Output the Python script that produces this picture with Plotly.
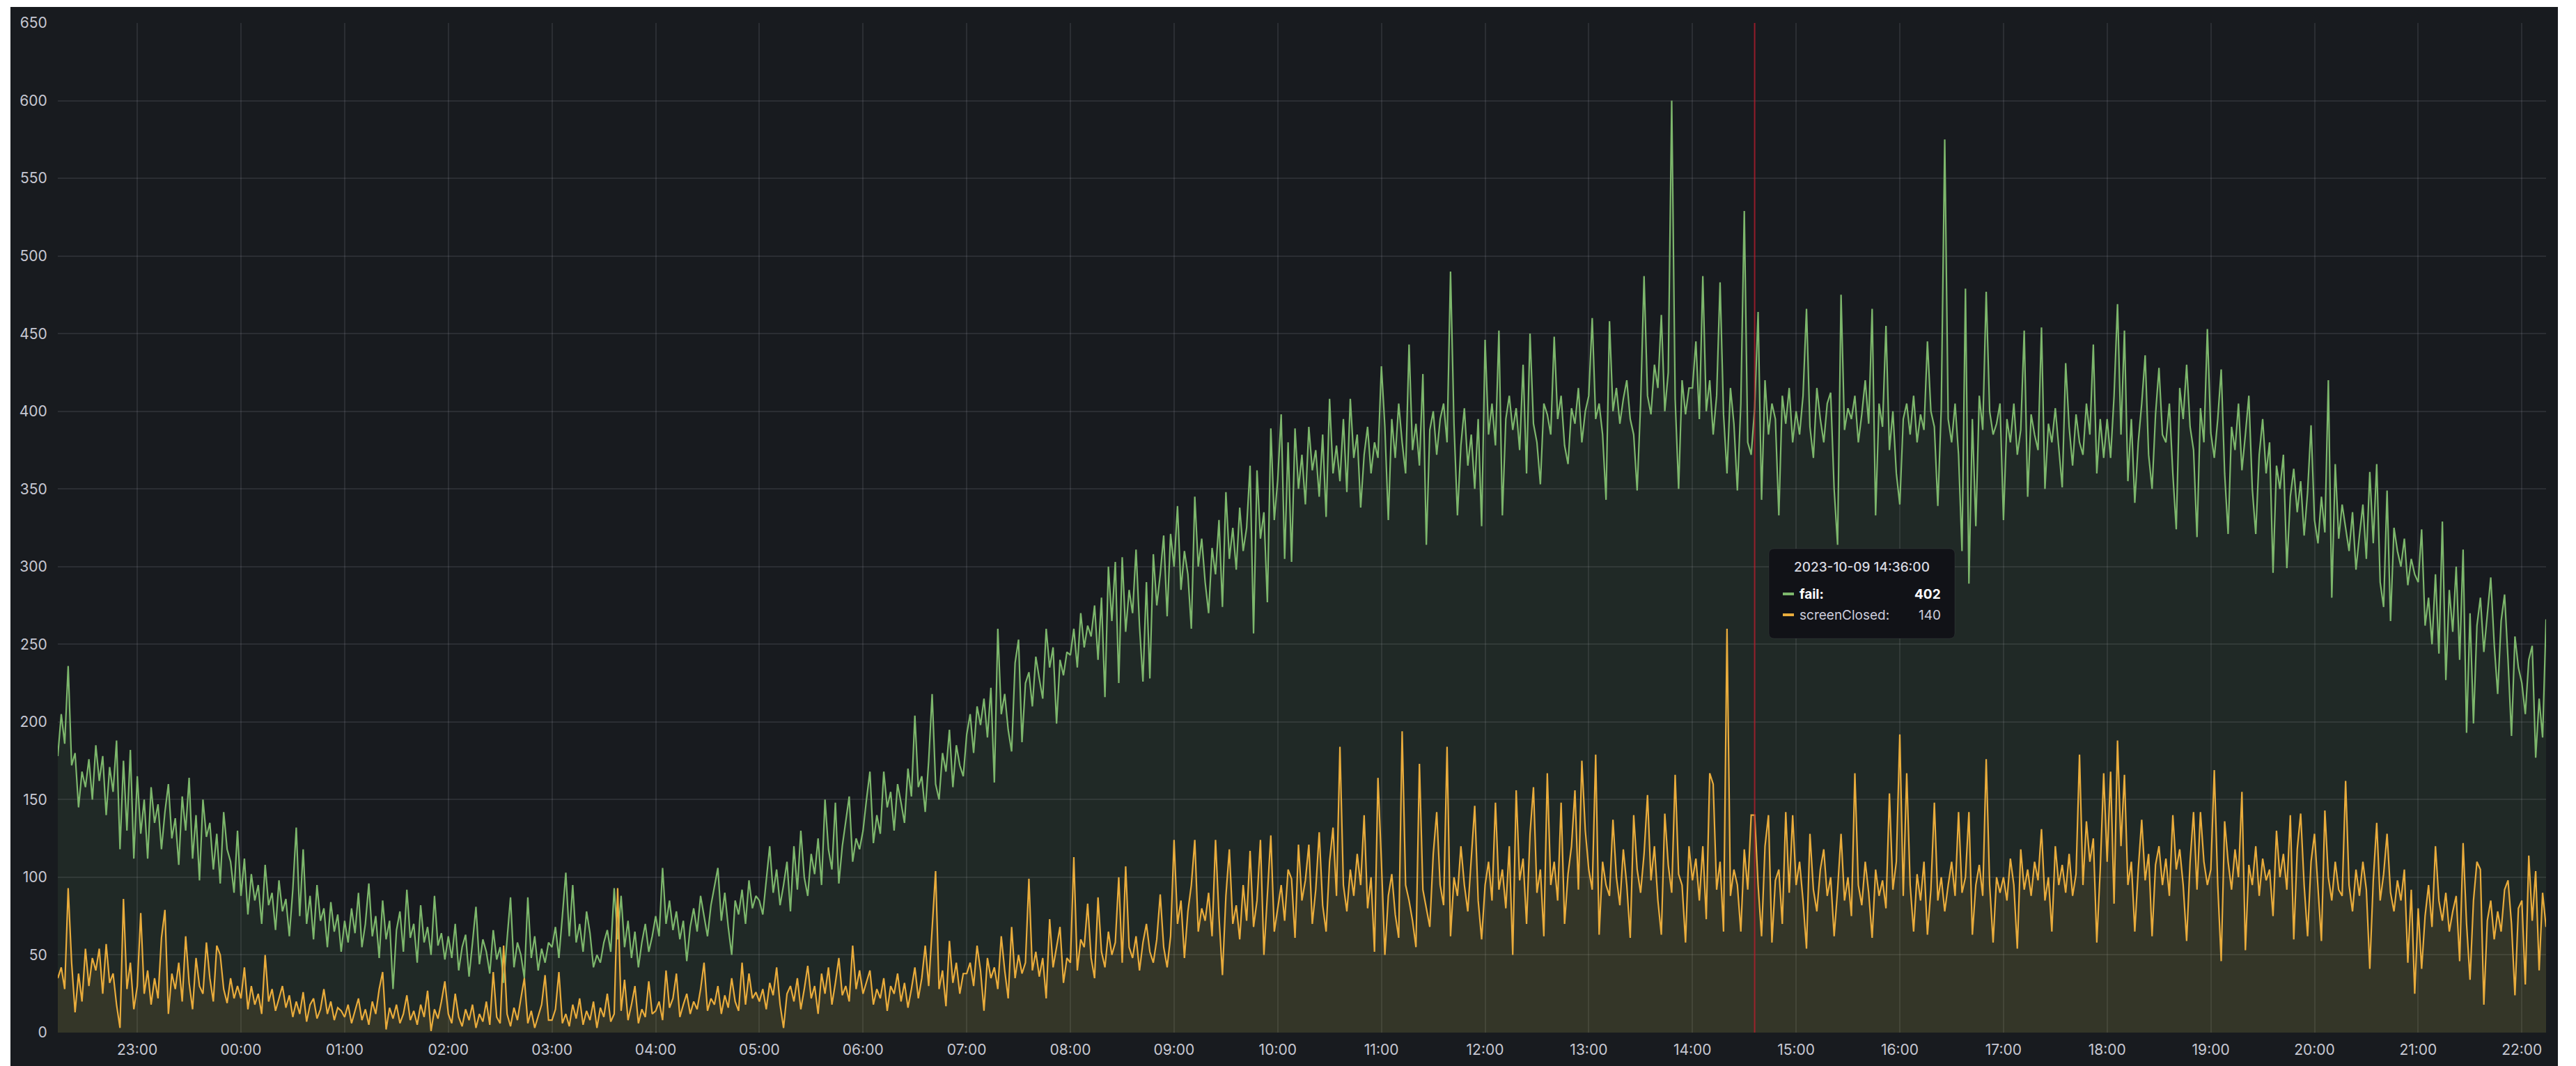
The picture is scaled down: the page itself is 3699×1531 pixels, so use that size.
import pandas as pd
import plotly.graph_objects as go

# ---------------- data (2-minute samples, 2023-10-08 22:14 -> 2023-10-09 22:14) ----------------
start_time = "2023-10-08 22:14"
end_time = "2023-10-09 22:14"
hover_time = "2023-10-09 14:36:00"

fail = (
    [178, 205, 186, 236, 172, 180, 145, 168, 158, 176, 150, 185, 162, 178, 140, 171, 155, 188, 118, 175, 130, 182, 112]  # 22:14-22:58
    + [165, 128, 150, 112, 158, 135, 147, 118, 142, 160, 125, 138, 108, 152, 130, 164, 112, 140, 98, 150, 126, 135, 105, 128, 96, 142, 118, 110, 90, 130]  # 23h
    + [88, 112, 76, 102, 85, 95, 70, 108, 82, 90, 66, 98, 78, 86, 62, 92, 132, 75, 118, 70, 88, 60, 95, 72, 80, 55, 84, 65, 76, 52]  # 00h
    + [72, 58, 80, 64, 90, 55, 70, 96, 62, 75, 48, 85, 60, 72, 28, 66, 78, 52, 92, 61, 70, 45, 82, 58, 68, 50, 88, 56, 64, 47]  # 01h
    + [62, 48, 70, 40, 55, 63, 36, 58, 81, 44, 60, 52, 38, 66, 47, 55, 32, 60, 87, 42, 58, 50, 35, 87, 48, 62, 40, 54, 45, 58]  # 02h
    + [55, 68, 48, 75, 103, 62, 95, 58, 70, 52, 78, 64, 42, 50, 45, 58, 66, 52, 93, 60, 88, 55, 72, 48, 65, 42, 58, 70, 52, 62]  # 03h
    + [75, 62, 106, 70, 85, 66, 78, 60, 72, 46, 68, 80, 65, 88, 74, 62, 82, 95, 106, 72, 90, 68, 50, 85, 76, 92, 70, 98, 80, 88]  # 04h
    + [85, 76, 98, 120, 90, 105, 82, 95, 110, 78, 120, 92, 130, 100, 88, 115, 102, 125, 95, 150, 118, 105, 148, 96, 120, 135, 152, 110, 125, 118]  # 05h
    + [130, 150, 168, 122, 140, 128, 168, 145, 155, 130, 160, 148, 135, 170, 152, 204, 158, 165, 142, 175, 218, 160, 150, 180, 168, 195, 158, 185, 172, 165]  # 06h
    + [192, 205, 180, 210, 198, 215, 190, 222, 161, 260, 205, 218, 195, 181, 238, 253, 187, 225, 232, 210, 242, 228, 215, 260, 235, 248, 199, 240, 230, 245]  # 07h
    + [243, 260, 235, 270, 248, 262, 255, 275, 240, 280, 216, 300, 265, 303, 225, 306, 258, 285, 270, 311, 262, 226, 290, 228, 308, 275, 295, 320, 268, 321]  # 08h
    + [300, 339, 285, 310, 295, 260, 345, 300, 318, 290, 270, 312, 295, 330, 274, 348, 305, 325, 298, 338, 310, 325, 365, 257, 362, 318, 335, 277, 389, 330]  # 09h
    + [356, 398, 305, 380, 303, 389, 350, 372, 340, 390, 362, 375, 345, 385, 332, 408, 360, 378, 355, 395, 348, 408, 370, 385, 338, 372, 390, 360, 380, 370]  # 10h
    + [429, 390, 330, 395, 370, 405, 380, 360, 443, 375, 392, 365, 424, 314, 388, 400, 372, 395, 405, 380, 490, 392, 333, 378, 402, 365, 385, 350, 395, 326]  # 11h
    + [446, 385, 405, 378, 452, 333, 395, 410, 388, 402, 375, 430, 360, 450, 392, 380, 353, 405, 398, 385, 448, 395, 410, 378, 366, 402, 392, 415, 380, 400]  # 12h
    + [410, 460, 395, 405, 385, 343, 458, 400, 415, 392, 408, 420, 395, 385, 349, 405, 487, 410, 398, 430, 415, 462, 400, 425, 600, 408, 350, 420, 398, 415]  # 13h
    + [415, 445, 395, 487, 400, 420, 385, 410, 483, 398, 360, 415, 392, 349, 405, 529, 380, 372, 402, 464, 343, 420, 385, 405, 395, 333, 410, 392, 415, 380]  # 14h
    + [400, 385, 410, 466, 390, 370, 415, 395, 380, 405, 412, 350, 314, 475, 388, 402, 395, 410, 380, 398, 420, 392, 466, 333, 405, 390, 455, 375, 400, 360]  # 15h
    + [340, 395, 405, 385, 410, 380, 398, 388, 445, 400, 390, 339, 402, 575, 395, 380, 405, 372, 310, 479, 289, 395, 326, 410, 388, 477, 400, 385, 392, 405]  # 16h
    + [330, 395, 380, 405, 372, 388, 452, 345, 398, 385, 375, 454, 350, 392, 380, 402, 375, 351, 431, 390, 365, 398, 380, 372, 405, 385, 443, 360, 395, 370]  # 17h
    + [395, 370, 410, 469, 385, 452, 355, 395, 341, 380, 405, 436, 372, 350, 398, 428, 385, 380, 405, 360, 324, 415, 395, 430, 390, 375, 319, 402, 380, 453]  # 18h
    + [386, 370, 395, 427, 360, 321, 390, 375, 405, 362, 385, 410, 350, 321, 372, 395, 360, 380, 296, 365, 350, 372, 299, 345, 363, 335, 355, 320, 348, 391]  # 19h
    + [330, 315, 345, 322, 420, 280, 366, 318, 340, 325, 310, 335, 298, 320, 340, 305, 361, 315, 366, 290, 274, 349, 265, 325, 310, 300, 318, 288, 305, 295]  # 20h
    + [290, 324, 262, 280, 250, 295, 244, 329, 227, 285, 258, 300, 240, 311, 193, 270, 199, 262, 280, 245, 270, 293, 250, 218, 265, 282, 240, 191, 255, 235]  # 21h
    + [225, 205, 240, 249, 177, 215, 190, 266]  # 22:00-22:14
)

screen_closed = (
    [35, 42, 28, 93, 45, 13, 38, 20, 54, 30, 48, 40, 54, 25, 57, 32, 38, 18, 3, 86, 28, 45, 15]  # 22:14-22:58
    + [30, 77, 25, 40, 18, 35, 22, 61, 79, 12, 38, 28, 45, 20, 62, 32, 15, 48, 30, 25, 58, 35, 20, 56, 50, 28, 19, 35, 22, 30]  # 23h
    + [22, 42, 15, 30, 18, 25, 12, 50, 20, 28, 14, 22, 30, 16, 24, 10, 20, 12, 26, 7, 18, 22, 9, 15, 28, 12, 20, 8, 16, 14]  # 00h
    + [10, 18, 6, 14, 22, 8, 15, 5, 20, 12, 28, 39, 2, 16, 9, 18, 6, 12, 24, 8, 14, 5, 18, 10, 27, 1, 15, 9, 20, 33]  # 01h
    + [12, 6, 25, 10, 4, 15, 8, 18, 3, 12, 7, 20, 5, 39, 10, 6, 56, 12, 4, 16, 8, 22, 35, 6, 14, 3, 10, 18, 37, 8]  # 02h
    + [8, 15, 39, 6, 12, 4, 18, 9, 22, 5, 14, 8, 20, 3, 16, 10, 25, 7, 12, 93, 14, 34, 8, 18, 30, 6, 15, 10, 33, 12]  # 03h
    + [14, 20, 8, 40, 16, 22, 38, 10, 18, 25, 12, 20, 15, 28, 45, 14, 22, 18, 30, 12, 24, 16, 35, 20, 14, 45, 18, 38, 22, 26]  # 04h
    + [20, 28, 15, 32, 24, 42, 18, 3, 25, 30, 20, 35, 15, 28, 43, 22, 30, 12, 38, 25, 42, 18, 32, 48, 24, 30, 20, 56, 28, 40]  # 05h
    + [25, 32, 40, 18, 28, 22, 35, 14, 30, 25, 38, 20, 32, 16, 28, 42, 22, 35, 56, 30, 66, 104, 28, 40, 17, 59, 32, 45, 25, 38]  # 06h
    + [38, 45, 30, 56, 40, 14, 48, 35, 42, 28, 62, 40, 22, 68, 35, 50, 38, 45, 99, 40, 52, 36, 48, 22, 73, 42, 55, 68, 32, 48]  # 07h
    + [45, 113, 40, 60, 55, 83, 48, 35, 87, 52, 42, 65, 50, 58, 100, 45, 107, 55, 48, 62, 40, 58, 70, 52, 45, 60, 89, 55, 42, 62]  # 08h
    + [124, 70, 85, 48, 78, 95, 124, 65, 80, 72, 90, 62, 124, 75, 37, 88, 118, 70, 82, 60, 95, 72, 117, 68, 85, 124, 50, 88, 127, 65]  # 09h
    + [80, 95, 72, 105, 99, 61, 121, 85, 98, 121, 70, 92, 129, 82, 65, 110, 132, 88, 184, 95, 78, 105, 88, 115, 95, 140, 80, 100, 52, 164]  # 10h
    + [110, 50, 88, 102, 76, 61, 194, 95, 85, 72, 55, 173, 92, 80, 68, 115, 142, 95, 82, 184, 62, 100, 88, 120, 95, 78, 110, 146, 85, 60]  # 11h
    + [95, 110, 85, 148, 92, 105, 80, 120, 50, 156, 98, 112, 70, 128, 158, 90, 105, 62, 167, 95, 110, 85, 148, 70, 102, 120, 156, 92, 175, 130]  # 12h
    + [105, 92, 179, 63, 110, 95, 88, 137, 100, 82, 118, 95, 61, 140, 105, 90, 115, 153, 98, 120, 85, 63, 141, 108, 90, 166, 102, 95, 58, 120]  # 13h
    + [98, 112, 85, 120, 73, 167, 160, 92, 110, 65, 260, 88, 105, 95, 65, 118, 92, 140, 140, 95, 62, 120, 140, 58, 98, 105, 70, 142, 90, 140]  # 14h
    + [95, 110, 85, 54, 128, 92, 78, 105, 118, 88, 100, 62, 92, 128, 85, 100, 75, 167, 95, 82, 110, 90, 61, 105, 88, 98, 80, 154, 92, 110]  # 15h
    + [192, 88, 167, 95, 65, 102, 85, 110, 63, 92, 148, 85, 100, 78, 95, 110, 88, 142, 90, 100, 142, 63, 95, 108, 88, 176, 95, 58, 100, 90]  # 16h
    + [100, 85, 112, 95, 54, 118, 92, 105, 88, 110, 98, 131, 85, 100, 65, 120, 95, 108, 90, 115, 88, 102, 179, 95, 136, 110, 125, 58, 105, 167]  # 17h
    + [110, 168, 83, 188, 120, 166, 95, 110, 65, 105, 137, 98, 115, 62, 108, 120, 95, 112, 88, 140, 105, 118, 95, 59, 110, 142, 92, 142, 110, 95]  # 18h
    + [105, 169, 95, 46, 136, 110, 92, 118, 100, 155, 53, 108, 95, 120, 88, 112, 98, 105, 75, 130, 100, 115, 92, 140, 60, 118, 141, 95, 62, 110]  # 19h
    + [128, 92, 59, 143, 100, 85, 110, 92, 88, 162, 95, 78, 105, 88, 110, 92, 41, 98, 135, 85, 102, 128, 90, 78, 98, 85, 105, 45, 92, 25]  # 20h
    + [80, 41, 75, 95, 68, 120, 85, 72, 90, 65, 78, 88, 46, 122, 70, 34, 85, 110, 105, 18, 72, 85, 60, 78, 65, 92, 98, 70, 24, 80]  # 21h
    + [85, 31, 114, 72, 104, 40, 90, 68]  # 22:00-22:14
)

series_names = ["fail", "screenClosed"]
series_colors = ["#7DB76C", "#E9AC3C"]
series_fills = ["rgba(125,183,108,0.09)", "rgba(233,172,60,0.10)"]
y_ticks = list(range(0, 651, 50))

# ---------------- figure ----------------
W, H = 3699, 1531
L, R, T, B = 83, 3656, 33, 1483
PW, PH = R - L, B - T


def px(x):
    return (x - L) / PW


def py(y):
    return (B - y) / PH


t_fail = pd.date_range(start_time, periods=len(fail), freq="2min")
t_sc = pd.date_range(start_time, periods=len(screen_closed), freq="2min")

fig = go.Figure()
for name, t, vals, col, fc in zip(series_names, [t_fail, t_sc], [fail, screen_closed],
                                  series_colors, series_fills):
    fig.add_trace(go.Scatter(
        x=t, y=vals, name=name, mode="lines",
        line=dict(color=col, width=2.2),
        fill="tozeroy", fillcolor=fc,
    ))

font_family = "Inter, Roboto, sans-serif"
tick_font = dict(family=font_family, size=21, color="#c7c8d2")
grid_col = "rgba(204,204,220,0.11)"

fig.update_layout(
    width=W, height=H,
    margin=dict(l=L, r=W - R, t=T, b=H - B, pad=0),
    paper_bgcolor="#ffffff",
    plot_bgcolor="rgba(0,0,0,0)",
    showlegend=False,
    font=dict(family=font_family),
    xaxis=dict(
        type="date", range=[start_time, end_time],
        tickformat="%H:%M", dtick=3600000, tick0="2023-10-08 23:00",
        showgrid=True, gridcolor=grid_col, gridwidth=2,
        zeroline=False, showline=False,
        ticks="outside", ticklen=6, tickcolor="rgba(0,0,0,0)",
        tickfont=tick_font,
    ),
    yaxis=dict(
        range=[0, 650], tickvals=y_ticks,
        showgrid=True, gridcolor=grid_col, gridwidth=2,
        zeroline=False, showline=False,
        ticks="outside", ticklen=10, tickcolor="rgba(0,0,0,0)",
        tickfont=tick_font,
    ),
)

shapes = []
# Grafana panel background
shapes.append(dict(type="rect", xref="paper", yref="paper", layer="below",
                   x0=px(15), x1=px(3673), y0=py(1540), y1=py(10),
                   fillcolor="#181b1f", line=dict(width=0)))
# crosshair
shapes.append(dict(type="line", xref="x", yref="paper", x0=hover_time, x1=hover_time,
                   y0=0, y1=1, line=dict(color="rgba(190,30,45,0.75)", width=2)))

# tooltip box with rounded corners (pixel geometry)
bx0, bx1, by0, by1, r = 2540, 2807, 788, 917, 8
path = (
    f"M {px(bx0 + r)},{py(by0)} L {px(bx1 - r)},{py(by0)} "
    f"Q {px(bx1)},{py(by0)} {px(bx1)},{py(by0 + r)} "
    f"L {px(bx1)},{py(by1 - r)} Q {px(bx1)},{py(by1)} {px(bx1 - r)},{py(by1)} "
    f"L {px(bx0 + r)},{py(by1)} Q {px(bx0)},{py(by1)} {px(bx0)},{py(by1 - r)} "
    f"L {px(bx0)},{py(by0 + r)} Q {px(bx0)},{py(by0)} {px(bx0 + r)},{py(by0)} Z"
)
shapes.append(dict(type="path", xref="paper", yref="paper", path=path,
                   fillcolor="#111217", line=dict(color="rgba(204,204,220,0.08)", width=1)))

idx = list(t_fail).index(pd.Timestamp(hover_time))
hover_vals = [fail[idx], screen_closed[list(t_sc).index(pd.Timestamp(hover_time))]]
row_y = [853, 883]
for col, yy in zip(series_colors, row_y):
    shapes.append(dict(type="line", xref="paper", yref="paper",
                       x0=px(2560), x1=px(2576), y0=py(yy), y1=py(yy),
                       line=dict(color=col, width=4)))
fig.update_layout(shapes=shapes)

annotations = [
    dict(xref="paper", yref="paper", x=px(2673), y=py(814), text=pd.Timestamp(hover_time).strftime("%Y-%m-%d %H:%M:%S"),
         showarrow=False, xanchor="center", yanchor="middle",
         font=dict(family=font_family, size=19, color="#d8d9e0", weight=500)),
]
styles = [dict(color="#ffffff", weight=700), dict(color="#ccccdc", weight=400)]
for name, val, yy, st in zip(series_names, hover_vals, row_y, styles):
    annotations.append(dict(xref="paper", yref="paper", x=px(2582), y=py(yy), text=f"{name}:",
                            showarrow=False, xanchor="left", yanchor="middle",
                            font=dict(family=font_family, size=19, **st)))
    annotations.append(dict(xref="paper", yref="paper", x=px(2789), y=py(yy), text=str(val),
                            showarrow=False, xanchor="right", yanchor="middle",
                            font=dict(family=font_family, size=19, **st)))
fig.update_layout(annotations=annotations)

fig.write_html("out.html", include_plotlyjs=True,
               config={"displayModeBar": False},
               post_script="document.body.style.margin='0';document.body.style.overflow='hidden';")
